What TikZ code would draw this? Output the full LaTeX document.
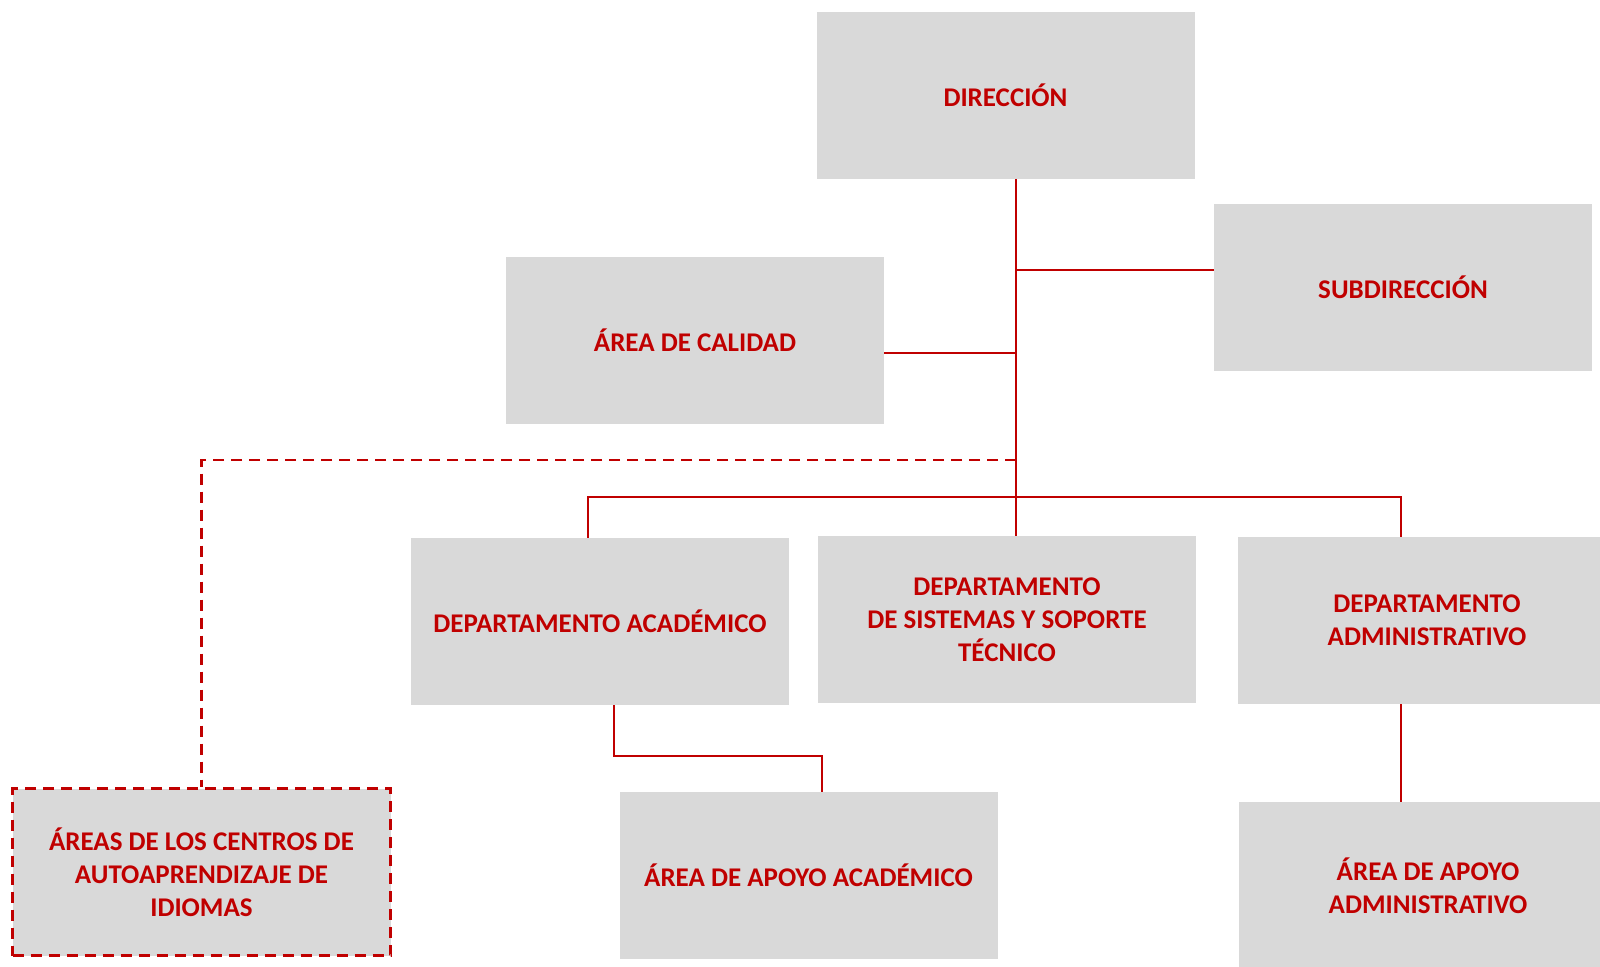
\documentclass[tikz,border=0pt]{standalone}
\usepackage{fontspec}
\setmainfont{Carlito}
\definecolor{boxgray}{HTML}{D9D9D9}
\definecolor{darkred}{HTML}{C00000}
\tikzset{
  unit/.style={draw=none,fill=boxgray,text=darkred,font=\bfseries\fontsize{13.5}{16.4}\selectfont,
    align=center,inner sep=0pt,minimum width=189pt,minimum height=83.5pt},
  link/.style={draw=darkred,line width=0.7pt},
  dashlink/.style={draw=darkred,line width=1.3pt,dash pattern=on 5.5pt off 3.5pt}
}
\begin{document}
\begin{tikzpicture}[x=0.5pt,y=-0.5pt]
\useasboundingbox (0,0) rectangle (1600,966);
% drawing nodes
\node[unit] (dir) at (1005.5,95) {DIRECCIÓN};
\node[unit] (sub) at (1403,287.5) {SUBDIRECCIÓN};
\node[unit] (cal) at (695,340.5) {ÁREA DE CALIDAD};
\node[unit] (dacad) at (600,621.5) {DEPARTAMENTO ACADÉMICO};
\node[unit] (dsis) at (1007,619.5) {DEPARTAMENTO\\DE SISTEMAS Y SOPORTE\\TÉCNICO};
\node[unit] (dadm) at (1427,620.5) {DEPARTAMENTO\\ADMINISTRATIVO};
\node[unit] (aacad) at (808.5,875.5) {ÁREA DE APOYO ACADÉMICO};
\node[unit] (aadm) at (1428,885.5) {ÁREA DE APOYO\\ADMINISTRATIVO};
\node[unit,dashlink] (cent) at (201.5,872) {ÁREAS DE LOS CENTROS DE\\AUTOAPRENDIZAJE DE\\IDIOMAS};
% junctions
\coordinate (trunk) at (1016,497);
\coordinate (jsub) at (1016,270);
\coordinate (jcal) at (1016,353);
\coordinate (jcent) at (1016,460);
\coordinate (bl) at (588,497);
\coordinate (br) at (1401,497);
\coordinate (k1) at (614,756);
\coordinate (k2) at (822,756);
% drawing edges
\draw[link] (dir.south -| trunk) -- (dsis.north -| trunk);
\draw[link] (jsub) -- (jsub -| sub.west);
\draw[link] (jcal) -- (jcal -| cal.east);
\draw[link] (bl |- dacad.north) -- (bl) -- (br) -- (br |- dadm.north);
\draw[link] (k1 |- dacad.south) -- (k1) -- (k2) -- (k2 |- aacad.north);
\draw[link] (br |- dadm.south) -- (br |- aadm.north);
\draw[dashlink] (jcent) -| (cent.north);
\end{tikzpicture}
\end{document}
